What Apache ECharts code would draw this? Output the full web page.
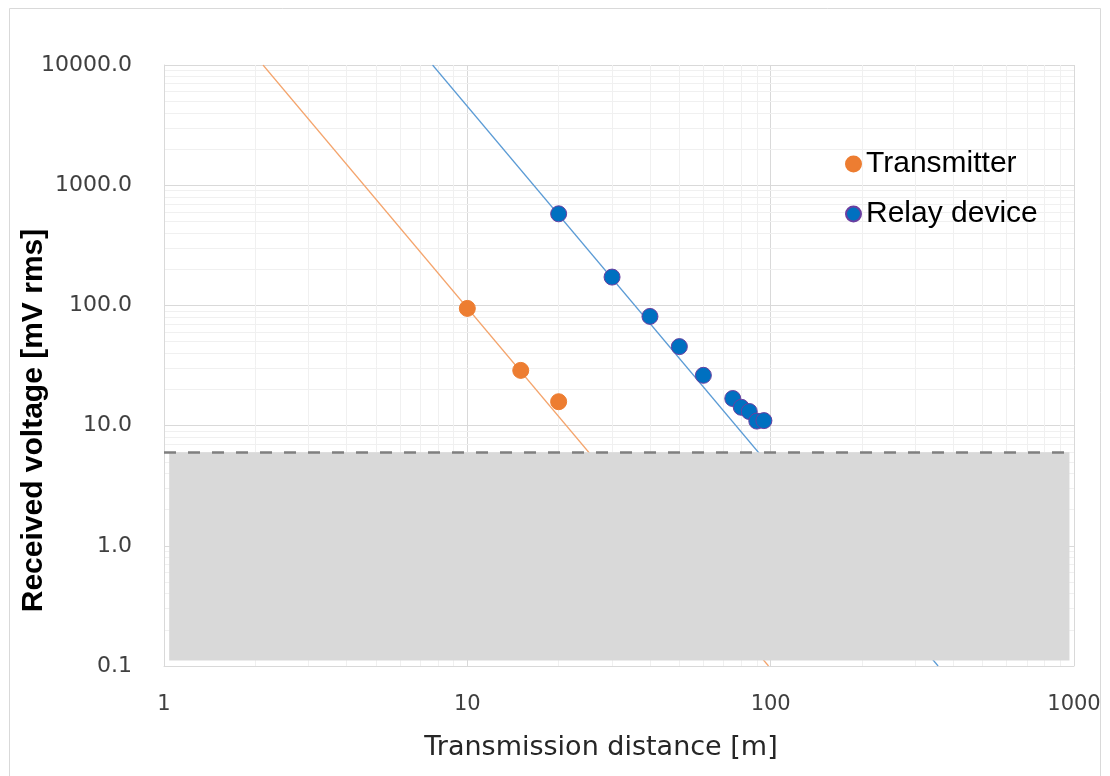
<!DOCTYPE html>
<html style="height: 100%">
<head>
  <meta charset="utf-8">
</head>
<body style="height: 100%; margin: 0; background: #fff">
<div id="chartContainer" style="width: 1110px; height: 776px"></div>
<script src="https://cdn.jsdelivr.net/npm/echarts@6/dist/echarts.min.js"></script>
<script>
  // measured points
  var txDistance = [10, 15, 20];
  var txVoltage = [94.4, 28.8, 15.8];
  var relayDistance = [20, 30, 40, 50, 60, 75, 80, 85, 90, 95];
  var relayVoltage = [578, 172, 81, 45.4, 26.2, 16.8, 14.2, 13.1, 10.9, 11.0];

  // power-law trend lines (end points)
  var txTrend = [[2.12, 10000], [98.4, 0.1]];
  var relayTrend = [[7.68, 10000], [356.5, 0.1]];

  // detection threshold and the shaded region under it
  var threshold = 6.0;
  var shadeX = [1.04, 966];
  var shadeY = [0.111, 6.0];

  // minor grid values for the log axes
  var xDecades = [1, 10, 100];
  var yDecades = [0.1, 1, 10, 100, 1000];
  var minorSteps = [2, 3, 4, 5, 6, 7, 8, 9];

  var pair = function (xs, ys) {
    return xs.map(function (x, i) { return [x, ys[i]]; });
  };

  var minorLines = [];
  xDecades.forEach(function (d) {
    minorSteps.forEach(function (m) { minorLines.push({xAxis: d * m}); });
  });
  yDecades.forEach(function (d) {
    minorSteps.forEach(function (m) { minorLines.push({yAxis: d * m}); });
  });

  var labelFont = '"DejaVu Sans", sans-serif';
  var arialLike = '"Liberation Sans", Arial, sans-serif';
  var dom = document.getElementById('chartContainer');
  var myChart = echarts.init(dom, null, {renderer: 'canvas'});

  var option = {
    animation: false,
    backgroundColor: '#fff',
    graphic: [{
      type: 'rect',
      shape: {x: 9.5, y: 8.5, width: 1091, height: 800},
      style: {fill: 'none', stroke: '#d9d9d9', lineWidth: 1},
      silent: true
    }],
    grid: {left: 164, right: 36, top: 65, bottom: 110, containLabel: false, outerBoundsMode: 'none'},
    legend: {
      data: ['Transmitter', 'Relay device'],
      orient: 'vertical',
      left: 845,
      top: 149,
      padding: 0,
      icon: 'circle',
      itemWidth: 15,
      itemHeight: 15,
      itemGap: 20,
      textStyle: {fontSize: 30, color: '#000', fontFamily: arialLike}
    },
    xAxis: {
      type: 'log',
      logBase: 10,
      min: 1,
      max: 1000,
      name: 'Transmission distance [m]',
      nameLocation: 'middle',
      nameGap: 68,
      nameMoveOverlap: false,
      nameTextStyle: {fontSize: 27, color: '#262626', fontFamily: labelFont, padding: [0, 36, 0, 0]},
      axisLine: {show: true, lineStyle: {color: '#d9d9d9'}},
      axisTick: {show: false},
      axisLabel: {
        fontSize: 21, color: '#404040', fontFamily: labelFont, margin: 28,
        formatter: function (v) { return String(v); }
      },
      splitLine: {show: true, lineStyle: {color: '#d9d9d9', width: 1}}
    },
    yAxis: {
      type: 'log',
      logBase: 10,
      min: 0.1,
      max: 10000,
      name: 'Received voltage [mV rms]',
      nameLocation: 'middle',
      nameGap: 115,
      nameMoveOverlap: false,
      nameTextStyle: {fontSize: 30, fontWeight: 'bold', color: '#000', fontFamily: arialLike, padding: [0, 110, 0, 0]},
      axisLine: {show: true, lineStyle: {color: '#d9d9d9'}},
      axisTick: {show: false},
      axisLabel: {
        fontSize: 22, color: '#404040', fontFamily: labelFont, margin: 32,
        formatter: function (v) { return v.toFixed(1); }
      },
      splitLine: {show: true, lineStyle: {color: '#d9d9d9', width: 1}}
    },
    series: [{
      name: 'minor grid',
      type: 'line',
      z: 0,
      data: [],
      silent: true,
      markLine: {
        silent: true,
        z: 0,
        symbol: 'none',
        label: {show: false},
        lineStyle: {color: '#f0f0f0', type: 'solid', width: 1},
        data: minorLines
      }
    }, {
      name: 'tx trend',
      type: 'line',
      z: 1,
      data: txTrend,
      showSymbol: false,
      silent: true,
      lineStyle: {color: '#f4a46c', width: 1.2}
    }, {
      name: 'relay trend',
      type: 'line',
      z: 1,
      data: relayTrend,
      showSymbol: false,
      silent: true,
      lineStyle: {color: '#5b9bd5', width: 1.2}
    }, {
      name: 'threshold',
      type: 'line',
      z: 4,
      data: [],
      silent: true,
      markArea: {
        silent: true,
        z: 4,
        itemStyle: {color: '#d9d9d9', opacity: 1},
        data: [[{coord: [shadeX[0], shadeY[0]]}, {coord: [shadeX[1], shadeY[1]]}]]
      },
      markLine: {
        silent: true,
        z: 5,
        symbol: 'none',
        label: {show: false},
        lineStyle: {color: '#7f7f7f', type: [12, 12], width: 2.5},
        data: [{yAxis: threshold}]
      }
    }, {
      name: 'Transmitter',
      type: 'scatter',
      z: 6,
      symbolSize: 16,
      itemStyle: {color: '#ed7d31', borderColor: '#ed7d31', borderWidth: 1, opacity: 1},
      data: pair(txDistance, txVoltage)
    }, {
      name: 'Relay device',
      type: 'scatter',
      z: 6,
      symbolSize: 16,
      itemStyle: {color: '#0070c0', borderColor: '#6a3fa0', borderWidth: 1, opacity: 1},
      data: pair(relayDistance, relayVoltage)
    }]
  };

  myChart.setOption(option);
</script>
</body>
</html>
